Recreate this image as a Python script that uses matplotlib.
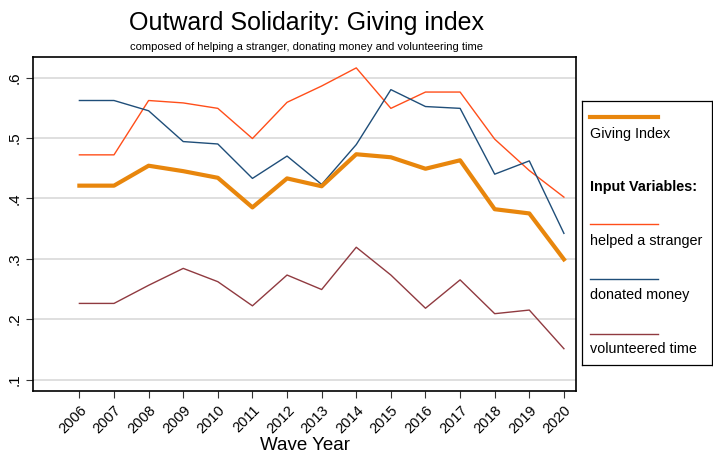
import matplotlib.pyplot as plt
from matplotlib.lines import Line2D

plt.rcParams['font.family'] = ['Liberation Sans', 'DejaVu Sans']

years = list(range(2006, 2021))
giving_index = [.421, .421, .454, .445, .434, .385, .433, .420, .473, .468, .449, .463, .382, .375, .299]
helped_stranger = [.472, .472, .562, .558, .549, .499, .559, .586, .616, .549, .576, .576, .498, .446, .402]
donated_money = [.562, .562, .545, .494, .490, .433, .470, .423, .489, .580, .552, .549, .440, .462, .342]
volunteered_time = [.226, .226, .256, .284, .262, .222, .273, .249, .319, .273, .218, .265, .209, .215, .151]
yticks = [.1, .2, .3, .4, .5, .6]
ytick_labels = ['.1', '.2', '.3', '.4', '.5', '.6']

c_index = '#E8860C'
c_helped = '#FF4E1A'
c_donated = '#1F4E79'
c_volunt = '#903A40'

fig = plt.figure(figsize=(7.13, 4.54), dpi=100)
ax = fig.add_axes([0.0463, 0.1388, 0.7616, 0.7356])

for y in yticks:
    ax.axhline(y, color='#DCDCDC', lw=1.3, zorder=0)

ax.plot(years, helped_stranger, color=c_helped, lw=1.0)
ax.plot(years, donated_money, color=c_donated, lw=1.0)
ax.plot(years, volunteered_time, color=c_volunt, lw=1.0)
ax.plot(years, giving_index, color=c_index, lw=3.0)

ax.set_xlim(2004.66, 2020.35)
ax.set_ylim(.081, .634)
ax.set_yticks(yticks)
ax.set_yticklabels(ytick_labels, rotation=90, va='center', fontsize=11)
ax.set_xticks(years)
ax.set_xticklabels([str(y) for y in years], rotation=45, ha='right',
                   rotation_mode='anchor', fontsize=10.5)
ax.tick_params(axis='both', length=5, width=0.8, color='#333333')
ax.tick_params(axis='y', pad=3)
ax.set_xlabel('Wave Year', fontsize=13.5, labelpad=1)
for s in ax.spines.values():
    s.set_linewidth(1.2)

fig.text(0.4305, 0.949, 'Outward Solidarity: Giving index', ha='center', va='center', fontsize=18)
fig.text(0.4305, 0.897, 'composed of helping a stranger, donating money and volunteering time',
         ha='center', va='center', fontsize=8)

# legend box drawn by hand: key line above each label
lg = fig.add_axes([0.8163, 0.196, 0.1823, 0.5815])
lg.set_xlim(0, 1)
lg.set_ylim(0, 1)
lg.set_xticks([])
lg.set_yticks([])
for s in lg.spines.values():
    s.set_linewidth(0.9)

entries = [
    (0.9405, 0.875, 'Giving Index', c_index, 3.0),
    (0.534, 0.471, 'helped a stranger', c_helped, 1.0),
    (0.326, 0.265, 'donated money', c_donated, 1.0),
    (0.119, 0.060, 'volunteered time', c_volunt, 1.0),
]
for ly, ty, label, col, lw in entries:
    lg.add_line(Line2D([0.06, 0.585], [ly, ly], color=col, lw=lw))
    lg.text(0.06, ty, label, fontsize=10.4, va='center', ha='left')
lg.text(0.06, 0.675, 'Input Variables:', fontsize=10.4, fontweight='bold', va='center', ha='left')

fig.savefig('out.png', dpi=100)
